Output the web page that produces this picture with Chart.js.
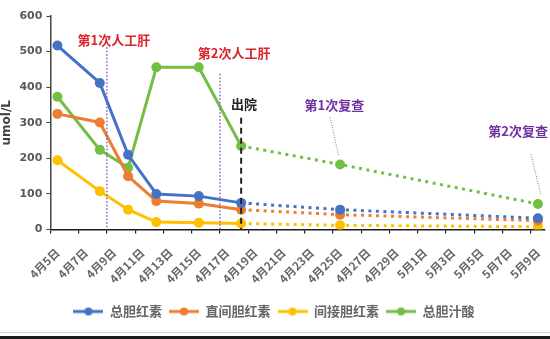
<!DOCTYPE html>
<html>
<head>
<meta charset="utf-8">
<script src="https://cdn.jsdelivr.net/npm/chart.js@4.4.1/dist/chart.umd.min.js"></script>
<style>
    html, body { margin: 0; padding: 0; background: #fff; }
    .wrap { width: 550px; height: 332px; position: relative; }
    .edge-light { height: 1px; background: #d4d4d4; }
    .edge-gap { height: 3px; background: #fff; }
    .edge-dark { height: 3px; background: #1c1c1c; }
</style>
</head>
<body>
<div class="wrap"><canvas id="liverChart"></canvas></div>
<div class="edge-light"></div>
<div class="edge-gap"></div>
<div class="edge-dark"></div>
<script>
// Daily category slots, 4月5日 .. 5月9日
const days = [
    '4月5日', '4月6日', '4月7日', '4月8日', '4月9日', '4月10日', '4月11日',
    '4月12日', '4月13日', '4月14日', '4月15日', '4月16日', '4月17日', '4月18日',
    '4月19日', '4月20日', '4月21日', '4月22日', '4月23日', '4月24日', '4月25日',
    '4月26日', '4月27日', '4月28日', '4月29日', '4月30日', '5月1日', '5月2日',
    '5月3日', '5月4日', '5月5日', '5月6日', '5月7日', '5月8日', '5月9日'
];

// Test dates and results (umol/L)
const testDates = ['4月5日', '4月8日', '4月10日', '4月12日', '4月15日', '4月18日', '4月25日', '5月9日'];
const totalBilirubin = [517, 412, 210, 100, 94, 75, 56, 32];
const directBilirubin = [325, 301, 150, 80, 73, 56, 42, 25];
const indirectBilirubin = [195, 108, 56, 21, 19, 17, 12, 8];
const totalBileAcid = [373, 224, 174, 456, 456, 235, 183, 72];

const seriesNames = ['总胆红素', '直间胆红素', '间接胆红素', '总胆汁酸'];
const seriesColors = ['#4472c4', '#ed7d31', '#ffc000', '#72bf44'];
const yTicks = [0, 100, 200, 300, 400, 500, 600];

// index of the discharge point; segments after it are follow-up visits
const dischargeIdx = 5;

const cjk = "'Noto Sans CJK SC', 'Noto Sans', sans-serif";

function toPoints(values) {
    return values.map((v, i) => ({ x: testDates[i], y: v }));
}

// legend swatch: short line with a dot in the middle
function legendMarker(color) {
    const c = document.createElement('canvas');
    c.width = 30; c.height = 12;
    const g = c.getContext('2d');
    g.strokeStyle = color;
    g.lineWidth = 3;
    g.beginPath(); g.moveTo(0, 6); g.lineTo(30, 6); g.stroke();
    g.fillStyle = color;
    g.beginPath(); g.arc(15, 6, 4, 0, Math.PI * 2); g.fill();
    return c;
}
const markers = seriesColors.map(legendMarker);

// vertical markers and text notes, positioned in data units
const notes = {
    lines: [
        { at: 3.5, top: 512, color: '#8a5cc8', width: 1.5, dash: [1.5, 2] },
        { at: 11.5, top: 438, color: '#8a5cc8', width: 1.5, dash: [1.5, 2] },
        { at: 13, top: 314, color: '#222', width: 2, dash: [6, 4] }
    ],
    leaders: [
        { from: [19.3, 315], to: [19.9, 207] },
        { from: [33.5, 212], to: [34.2, 99] }
    ],
    texts: [
        { text: '第1次人工肝', at: 4, y: 532, color: '#d9252b' },
        { text: '第2次人工肝', at: 12.5, y: 495, color: '#d9252b' },
        { text: '出院', at: 13.2, y: 353, color: '#222' },
        { text: '第1次复查', at: 19.6, y: 350, color: '#7030a0' },
        { text: '第2次复查', at: 32.6, y: 277, color: '#7030a0' }
    ]
};

const notesPlugin = {
    id: 'notes',
    afterDatasetsDraw(chart) {
        const { ctx, scales: { x, y } } = chart;
        const px = v => {
            const i = Math.floor(v);
            const a = x.getPixelForValue(i);
            const b = x.getPixelForValue(i + 1);
            return a + (b - a) * (v - i);
        };
        ctx.save();
        notes.lines.forEach(l => {
            const xp = px(l.at);
            ctx.strokeStyle = l.color;
            ctx.lineWidth = l.width;
            ctx.setLineDash(l.dash);
            ctx.beginPath();
            ctx.moveTo(xp, y.getPixelForValue(l.top));
            ctx.lineTo(xp, y.getPixelForValue(0));
            ctx.stroke();
        });
        notes.leaders.forEach(l => {
            ctx.strokeStyle = '#5a7ca8';
            ctx.lineWidth = 1;
            ctx.setLineDash([1, 1.5]);
            ctx.beginPath();
            ctx.moveTo(px(l.from[0]), y.getPixelForValue(l.from[1]));
            ctx.lineTo(px(l.to[0]), y.getPixelForValue(l.to[1]));
            ctx.stroke();
        });
        ctx.setLineDash([]);
        ctx.font = 'bold 13px ' + cjk;
        ctx.textAlign = 'center';
        ctx.textBaseline = 'middle';
        notes.texts.forEach(t => {
            ctx.fillStyle = t.color;
            ctx.fillText(t.text, px(t.at), y.getPixelForValue(t.y));
        });
        ctx.restore();
    }
};

const datasets = [totalBilirubin, directBilirubin, indirectBilirubin, totalBileAcid].map((vals, i) => ({
    label: seriesNames[i],
    data: toPoints(vals),
    borderColor: seriesColors[i],
    backgroundColor: seriesColors[i],
    borderWidth: 3,
    pointRadius: 5,
    pointHoverRadius: 5,
    pointBorderWidth: 0,
    tension: 0,
    segment: {
        borderDash: c => c.p0DataIndex >= dischargeIdx ? [3, 4.5] : undefined
    }
}));

new Chart(document.getElementById('liverChart'), {
    type: 'line',
    data: { labels: days, datasets },
    plugins: [notesPlugin],
    options: {
        responsive: true,
        maintainAspectRatio: false,
        animation: false,
        layout: { padding: { top: 16, right: 2, left: 0, bottom: 4 } },
        plugins: {
            tooltip: { enabled: false },
            legend: {
                position: 'bottom',
                labels: {
                    usePointStyle: true,
                    pointStyleWidth: 30,
                    boxHeight: 12,
                    padding: 7,
                    color: '#666',
                    font: { family: cjk, size: 13, weight: 'bold' },
                    generateLabels(chart) {
                        const items = Chart.defaults.plugins.legend.labels.generateLabels(chart);
                        items.forEach((it, i) => { it.pointStyle = markers[i]; });
                        return items;
                    }
                }
            }
        },
        scales: {
            x: {
                type: 'category',
                offset: true,
                afterFit: s => {
                    // rotated labels hang left of their ticks; no side padding needed
                    s.paddingLeft = 0;
                    s.paddingRight = 0;
                },
                border: { display: true, color: '#1a1a1a', width: 1.5 },
                grid: {
                    offset: true,
                    drawOnChartArea: false,
                    tickLength: 4,
                    lineWidth: 1.2,
                    color: c => (c.index % 2 === 0 ? '#1a1a1a' : 'rgba(0,0,0,0)')
                },
                ticks: {
                    autoSkip: false,
                    maxRotation: 45,
                    minRotation: 45,
                    padding: 12,
                    color: '#666',
                    font: { family: cjk, size: 11.5, weight: 'bold' },
                    callback: (v, i) => (i % 2 === 0 ? days[i] : '')
                }
            },
            y: {
                min: 0,
                max: 600,
                afterBuildTicks: s => { s.ticks = yTicks.map(v => ({ value: v })); },
                border: { display: true, color: '#444', width: 1.5 },
                grid: { drawOnChartArea: false, tickLength: 4, color: '#444' },
                ticks: {
                    padding: 4,
                    color: '#595959',
                    font: { family: "'DejaVu Sans', sans-serif", size: 11, weight: 'bold' }
                },
                title: {
                    display: true,
                    text: 'umol/L',
                    color: '#404040',
                    padding: { top: 0, bottom: 1 },
                    font: { family: "'DejaVu Sans', sans-serif", size: 12, weight: 'bold' }
                }
            }
        }
    }
});
</script>
</body>
</html>
